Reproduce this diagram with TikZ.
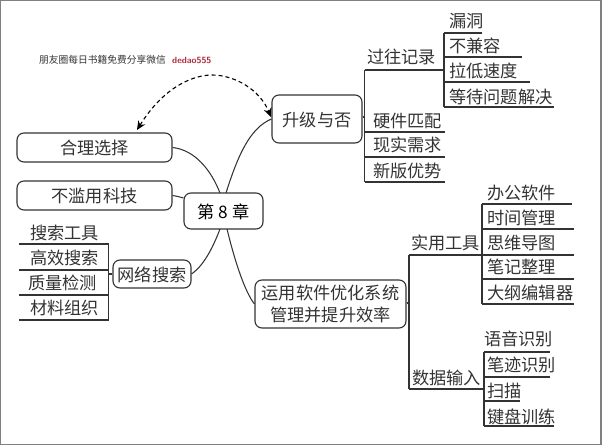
\documentclass[tikz,border=0pt]{standalone}
\usepackage{fontspec}
\setmainfont{Noto Sans CJK SC}
\usetikzlibrary{arrows.meta}
\definecolor{ink}{HTML}{333333}
\definecolor{wm}{HTML}{B02A3C}
\tikzset{
  box/.style={draw=ink,line width=1.1pt,rounded corners=7pt,inner sep=0pt,font=\fontsize{17.2}{17.2}\selectfont,text=ink,align=center},
  onebox/.style={box,text height=17pt,text depth=2pt},
  lab/.style={inner sep=0pt,font=\fontsize{17.2}{17.2}\selectfont,text=ink,anchor=west,text height=16pt,text depth=3pt},
  rule/.style={draw=ink,line width=1.2pt},
  link/.style={draw=ink,line width=1.05pt},
}
% name, text x, text y, rule left x, rule right x, rule y, text
\newcommand{\leafline}[7]{%
  \node[lab] (#1) at (#2,#3) {#7};
  \coordinate (#1-l) at (#4,#6);
  \coordinate (#1-r) at (#5,#6);
  \draw[rule] (#1-l) -- (#1-r);
}
\begin{document}
\begin{tikzpicture}[x=1pt,y=-1pt]
\useasboundingbox (0,0) rectangle (602,446);
\coordinate (fa) at (0.7,0.7);
\coordinate (fb) at (601,444.5);
\draw[draw=gray,line width=1.4pt] (fa) rectangle (fb);

\node[inner sep=0pt,anchor=west,font=\fontsize{9.75}{10}\selectfont,text=ink] (wa) at (39,60) {朋友圈每日书籍免费分享微信};
\node[inner sep=0pt,anchor=west,font=\fontsize{9}{10}\sffamily\bfseries\selectfont,text=wm] (wb) at (172,60) {dedao555};

% main boxes
\node[onebox,minimum width=155pt,minimum height=29pt] (hl) at (94.5,147.5) {合理选择};
\node[onebox,minimum width=155pt,minimum height=29pt] (bl) at (94.5,195.5) {不滥用科技};
\node[onebox,minimum width=79pt,minimum height=36pt,text=black] (ch) at (223.5,211) {第 8 章};
\node[onebox,minimum width=78pt,minimum height=28pt] (wl) at (152,274) {网络搜索};
\node[onebox,minimum width=90pt,minimum height=48pt] (sj) at (317,119) {升级与否};
\node[box,minimum width=151pt,minimum height=48pt,font=\fontsize{17.2}{21.5}\selectfont] (yy) at (330.5,304) {运用软件优化系统\\管理并提升效率};

% curved links
\coordinate (cht1) at (220,193);
\coordinate (cht2) at (226,193);
\coordinate (chb1) at (220,229);
\coordinate (chb2) at (227,229);
\draw[link] (cht1) .. controls (211,170) and (195,150) .. (hl.east);
\draw[link] (cht2) .. controls (238,155) and (250,128) .. (sj.west);
\draw[link] (bl.east) .. controls (176,196) and (180,197) .. (ch.west |- 0,198);
\draw[link] (chb1) .. controls (212,250) and (203,266) .. (wl.east);
\draw[link] (chb2) .. controls (235,262) and (245,292) .. (yy.west);

% dashed double arrow
\coordinate (da) at (271,117);
\coordinate (db) at (137,130);
\draw[draw=black,line width=1.1pt,dash pattern=on 4pt off 3pt,{Stealth[length=9pt,width=8pt]}-{Stealth[length=9pt,width=8pt]}]
  (db) .. controls (165,85) and (195,75) .. (212,75) .. controls (235,75) and (260,90) .. (da);

% upgrade branch
\coordinate (t1) at (364.5,70);
\coordinate (t2) at (364.5,182);
\coordinate (t3) at (444,70);
\coordinate (t4) at (444,33);
\coordinate (t5) at (444,107);
\coordinate (t6) at (364.5,117);
\draw[rule] (t1) -- (t2);
\draw[rule] (sj.east |- t6) -- (t6);
\draw[rule] (t1) -- (t3);
\draw[rule] (t4) -- (t5);
\node[lab] (gw) at (367,57) {过往记录};
\leafline{ld}{449}{21}{444}{482}{33}{漏洞}
\leafline{bj}{449}{46}{444}{522}{57}{不兼容}
\leafline{ll}{449}{71}{444}{530}{82}{拉低速度}
\leafline{dd}{449}{97}{444}{554}{107}{等待问题解决}
\leafline{yj}{373}{121}{364.5}{445}{132}{硬件匹配}
\leafline{xs}{373}{145}{364.5}{445}{157}{现实需求}
\leafline{xb}{373}{171}{364.5}{445}{182}{新版优势}

% software branch
\coordinate (u1) at (409,255);
\coordinate (u2) at (409,389);
\coordinate (u3) at (482,255);
\coordinate (u4) at (484,389);
\coordinate (u5) at (482,204);
\coordinate (u6) at (482,304);
\coordinate (u7) at (484,352);
\coordinate (u8) at (484,426);
\coordinate (u9) at (409,303);
\draw[rule] (u1) -- (u2);
\draw[rule] (yy.east |- u9) -- (u9);
\draw[rule] (u1) -- (u3);
\draw[rule] (u2) -- (u4);
\draw[rule] (u5) -- (u6);
\draw[rule] (u7) -- (u8);
\node[lab] (sy) at (411,243) {实用工具};
\node[lab] (sr) at (412,378) {数据输入};
\leafline{bg}{487}{193}{482}{572}{204}{办公软件}
\leafline{sg}{487}{218}{482}{574}{229}{时间管理}
\leafline{sw}{487}{243}{482}{574}{255}{思维导图}
\leafline{bz}{487}{267}{482}{574}{279}{笔记整理}
\leafline{dg}{487}{293}{482}{574}{304}{大纲编辑器}
\leafline{yg}{484}{339}{484}{550}{352}{语音识别}
\leafline{bi}{487}{365}{484}{550}{377}{笔迹识别}
\leafline{sm}{487}{391}{484}{520}{401}{扫描}
\leafline{jp}{487}{417}{484}{554}{426}{键盘训练}

% search branch
\coordinate (v1) at (108.5,244);
\coordinate (v2) at (108.5,320);
\coordinate (v3) at (108.5,274);
\draw[rule] (v1) -- (v2);
\draw[rule] (v3) -- (wl.west);
\leafline{ss}{30}{233}{19}{108.5}{244}{搜索工具}
\leafline{gx}{30}{258}{19}{108.5}{270}{高效搜索}
\leafline{zl}{28}{283}{19}{108.5}{295}{质量检测}
\leafline{cl}{30}{308}{19}{108.5}{320}{材料组织}
\end{tikzpicture}
\end{document}
